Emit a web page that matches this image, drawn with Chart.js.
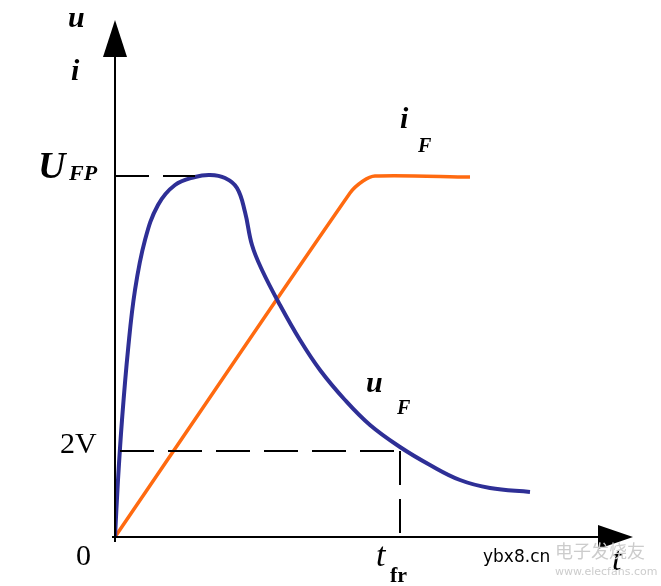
<!DOCTYPE html>
<html>
<head>
<meta charset="utf-8">
<script src="https://cdn.jsdelivr.net/npm/chart.js@4"></script>
<style>
body { margin: 0; background: #fff; }
#wrap { width: 661px; height: 586px; }
</style>
</head>
<body>
<div id="wrap"><canvas id="c"></canvas></div>
<script>
// u_F curve (time, value)
var uX = [0, 3, 7, 13, 20, 30, 43, 60, 80, 95, 110, 122, 130, 137, 147, 165, 185, 205, 230, 255, 285, 315, 345, 375, 415];
var uY = [0, 57, 117, 187, 247, 297, 332, 352, 360, 362, 359, 349, 325, 292, 267, 232, 197, 167, 137, 112, 90, 72, 57, 49, 45];
// i_F curve
var iX = [0, 235, 248, 260, 355];
var iY = [0, 344, 356, 361, 360];
var ufp = 361, twoV = 86, tfr = 285;

var uPts = uX.map(function (x, k) { return { x: x, y: uY[k] }; });
var iPts = iX.map(function (x, k) { return { x: x, y: iY[k] }; });

var overlay = {
  id: 'overlay',
  afterDraw: function (chart) {
    var ctx = chart.ctx, xs = chart.scales.x, ys = chart.scales.y;
    var px = function (v) { return xs.getPixelForValue(v); };
    var py = function (v) { return ys.getPixelForValue(v); };
    var x0 = px(0), y0 = py(0);
    ctx.save();
    ctx.strokeStyle = '#000'; ctx.fillStyle = '#000'; ctx.lineWidth = 2;
    // axes
    ctx.beginPath();
    ctx.moveTo(x0, y0 + 5); ctx.lineTo(x0, py(480));
    ctx.moveTo(x0 - 3, y0); ctx.lineTo(px(490), y0);
    ctx.stroke();
    ctx.beginPath();
    ctx.moveTo(x0, py(517)); ctx.lineTo(x0 - 12, py(480)); ctx.lineTo(x0 + 12, py(480)); ctx.closePath(); ctx.fill();
    ctx.beginPath();
    ctx.moveTo(px(518), y0); ctx.lineTo(px(483), y0 - 12); ctx.lineTo(px(483), y0 + 12); ctx.closePath(); ctx.fill();
    // dashed guides
    ctx.setLineDash([34, 14]);
    ctx.beginPath();
    ctx.moveTo(x0, py(ufp)); ctx.lineTo(px(80), py(ufp));
    ctx.moveTo(px(5), py(twoV)); ctx.lineTo(px(tfr), py(twoV));
    ctx.moveTo(px(tfr), py(twoV)); ctx.lineTo(px(tfr), py(-2));
    ctx.stroke();
    ctx.setLineDash([]);
    // labels
    ctx.textBaseline = 'alphabetic';
    ctx.font = 'bold italic 30px "Liberation Serif"';
    ctx.fillText('u', 68, 27);
    ctx.fillText('i', 71, 80);
    ctx.fillText('i', 400, 128);
    ctx.fillText('u', 366, 392);
    ctx.font = 'bold italic 38px "Liberation Serif"';
    ctx.fillText('U', 38, 178);
    ctx.font = 'bold italic 22px "Liberation Serif"';
    ctx.fillText('FP', 69, 180);
    ctx.font = 'bold italic 20px "Liberation Serif"';
    ctx.fillText('F', 418, 152);
    ctx.fillText('F', 397, 414);
    ctx.font = '30px "Liberation Serif"';
    ctx.fillText('2V', 60, 453);
    ctx.fillText('0', 76, 565);
    ctx.font = 'italic 34px "Liberation Serif"';
    ctx.fillText('t', 376, 566);
    ctx.fillText('t', 612, 570);
    ctx.font = 'bold 22px "Liberation Serif"';
    ctx.fillText('fr', 390, 582);
    ctx.font = '17px "DejaVu Sans"';
    ctx.fillText('ybx8.cn', 483, 562);
    ctx.fillStyle = '#ccc';
    ctx.font = '18px "Noto Sans CJK SC"';
    ctx.fillText('电子发烧友', 555, 558);
    ctx.font = '11px "DejaVu Sans"';
    ctx.fillText('www.elecfans.com', 555, 575);
    ctx.restore();
  }
};

new Chart(document.getElementById('c'), {
  type: 'line',
  data: {
    datasets: [
      { label: 'uF', data: uPts, borderColor: '#2e2f96', borderWidth: 4, pointRadius: 0, tension: 0.4, fill: false },
      { label: 'iF', data: iPts, borderColor: '#ff6a10', borderWidth: 3.5, pointRadius: 0, tension: 0.3, fill: false }
    ]
  },
  options: {
    responsive: true,
    maintainAspectRatio: false,
    animation: false,
    layout: { padding: { left: 115, right: 26, top: 17, bottom: 49 } },
    plugins: { legend: { display: false }, tooltip: { enabled: false } },
    scales: {
      x: { type: 'linear', min: 0, max: 520, display: false },
      y: { type: 'linear', min: 0, max: 520, display: false }
    }
  },
  plugins: [overlay]
});
</script>
</body>
</html>
